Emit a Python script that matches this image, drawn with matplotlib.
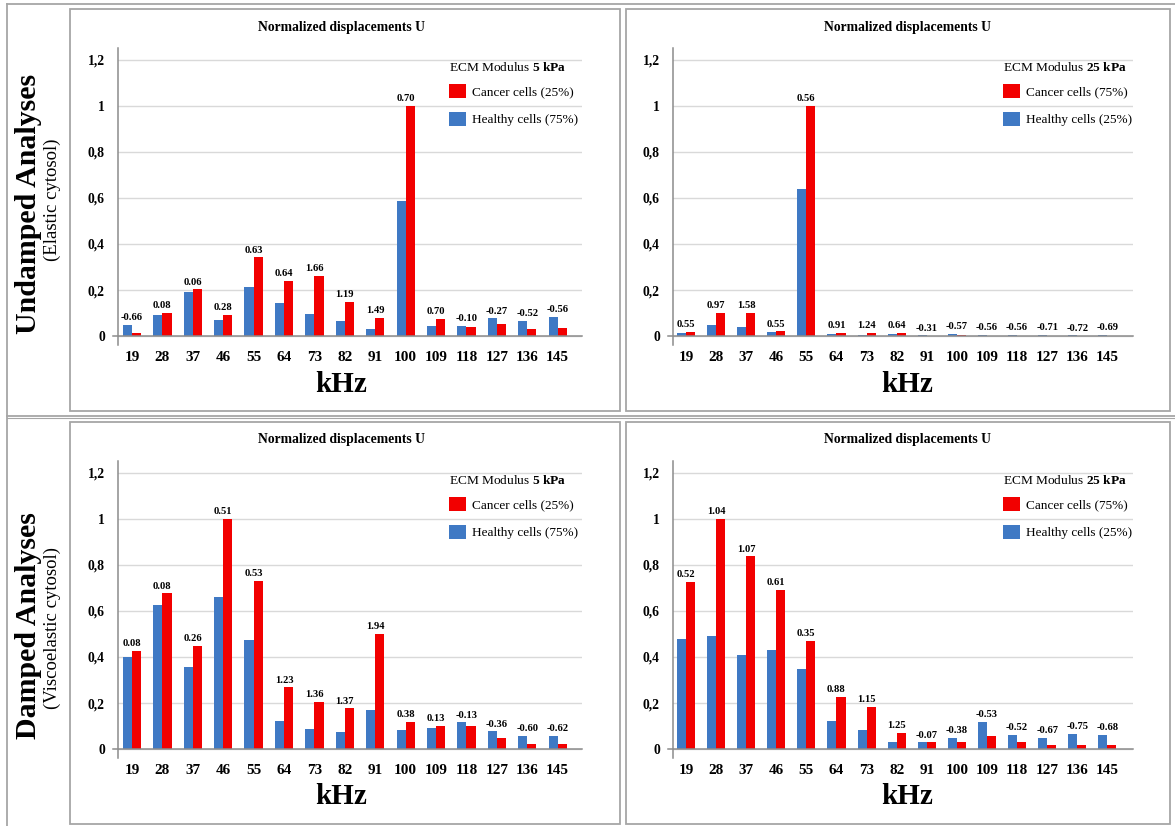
import matplotlib
matplotlib.use("Agg")
import matplotlib.pyplot as plt
from matplotlib.patches import Rectangle
from matplotlib.lines import Line2D

# ---------------------------------------------------------------- data
freq_khz = ["19", "28", "37", "46", "55", "64", "73", "82",
            "91", "100", "109", "118", "127", "136", "145"]

y_ticks = [0, 0.2, 0.4, 0.6, 0.8, 1.0, 1.2]
y_tick_labels = ["0", "0,2", "0,4", "0,6", "0,8", "1", "1,2"]

# Undamped analyses (elastic cytosol), ECM modulus 5 kPa
undamped_5_healthy = [0.048, 0.092, 0.193, 0.070, 0.211, 0.145, 0.096, 0.065,
                      0.029, 0.587, 0.042, 0.044, 0.077, 0.065, 0.084]
undamped_5_cancer = [0.015, 0.099, 0.203, 0.092, 0.342, 0.241, 0.263, 0.148,
                     0.080, 1.000, 0.073, 0.038, 0.054, 0.031, 0.033]
undamped_5_change = [-0.66, 0.08, 0.06, 0.28, 0.63, 0.64, 1.66, 1.19,
                     1.49, 0.70, 0.70, -0.10, -0.27, -0.52, -0.56]

# Undamped analyses (elastic cytosol), ECM modulus 25 kPa
undamped_25_healthy = [0.015, 0.049, 0.038, 0.016, 0.641, 0.007, 0.006, 0.009,
                       0.003, 0.008, 0.004, 0.004, 0.005, 0.003, 0.004]
undamped_25_cancer = [0.019, 0.099, 0.099, 0.020, 1.000, 0.013, 0.013, 0.015,
                      0.002, 0.004, 0.002, 0.002, 0.002, 0.001, 0.001]
undamped_25_change = [0.55, 0.97, 1.58, 0.55, 0.56, 0.91, 1.24, 0.64,
                      -0.31, -0.57, -0.56, -0.56, -0.71, -0.72, -0.69]

# Damped analyses (viscoelastic cytosol), ECM modulus 5 kPa
damped_5_healthy = [0.398, 0.628, 0.355, 0.663, 0.476, 0.120, 0.085, 0.074,
                    0.168, 0.084, 0.090, 0.116, 0.077, 0.058, 0.056]
damped_5_cancer = [0.428, 0.677, 0.450, 1.000, 0.731, 0.268, 0.205, 0.177,
                   0.500, 0.117, 0.100, 0.100, 0.048, 0.023, 0.020]
damped_5_change = [0.08, 0.08, 0.26, 0.51, 0.53, 1.23, 1.36, 1.37,
                   1.94, 0.38, 0.13, -0.13, -0.36, -0.60, -0.62]

# Damped analyses (viscoelastic cytosol), ECM modulus 25 kPa
damped_25_healthy = [0.478, 0.493, 0.407, 0.429, 0.347, 0.121, 0.084, 0.031,
                     0.029, 0.048, 0.118, 0.060, 0.049, 0.067, 0.060]
damped_25_cancer = [0.727, 1.000, 0.837, 0.692, 0.469, 0.227, 0.183, 0.070,
                    0.029, 0.029, 0.057, 0.029, 0.017, 0.017, 0.019]
damped_25_change = [0.52, 1.04, 1.07, 0.61, 0.35, 0.88, 1.15, 1.25,
                    -0.07, -0.38, -0.53, -0.52, -0.67, -0.75, -0.68]

# ---------------------------------------------------------------- style
plt.rcParams["font.family"] = ["Liberation Serif", "DejaVu Serif"]
plt.rcParams["mathtext.fontset"] = "custom"
plt.rcParams["mathtext.rm"] = "Liberation Serif"
plt.rcParams["mathtext.bf"] = "Liberation Serif:bold"

RED = "#F20000"
BLUE = "#3F79C4"
GRID = "#D9D9D9"
AXIS = "#8C8C8C"
FRAME = "#A6A6A6"

W, H = 1175, 826
fig = plt.figure(figsize=(W / 100, H / 100), dpi=100)
fig.patch.set_facecolor("white")


def fx(x):
    return x / W


def fy(y):
    return 1 - y / H


def add_px_axes(x0, y0, x1, y1):
    return fig.add_axes([fx(x0), fy(y1), (x1 - x0) / W, (y1 - y0) / H])


def fig_line(xs, ys, **kw):
    fig.add_artist(Line2D([fx(v) for v in xs], [fy(v) for v in ys],
                          transform=fig.transFigure, **kw))


def panel(box, ax_box, xlim, healthy, cancer, change, modulus,
          cancer_pct, healthy_pct, title_x, title_y, khz_y, legend_xy):
    # panel frame
    bx0, by0, bx1, by1 = box
    fig.add_artist(Rectangle((fx(bx0), fy(by1)), (bx1 - bx0) / W,
                             (by1 - by0) / H, transform=fig.transFigure,
                             fill=False, edgecolor=FRAME, linewidth=1.3))

    ax = add_px_axes(*ax_box)
    x = list(range(len(freq_khz)))
    w = 0.3
    ax.bar([i - w / 2 for i in x], healthy, width=w, color=BLUE,
           label=f"Healthy cells ({healthy_pct})", zorder=3)
    ax.bar([i + w / 2 for i in x], cancer, width=w, color=RED,
           label=f"Cancer cells ({cancer_pct})", zorder=3)

    for i, (h, c, lab) in enumerate(zip(healthy, cancer, change)):
        ax.annotate(f"{lab:.2f}", (i, max(h, c)), xytext=(0, 2),
                    textcoords="offset points", ha="center", va="bottom",
                    fontsize=7.6, fontweight="bold", zorder=4)

    ax.set_xlim(*xlim)
    ax.set_ylim(-0.039, 1.252)
    ax.set_yticks(y_ticks)
    ax.set_yticklabels(y_tick_labels, fontsize=9.8, fontweight="bold")
    ax.set_xticks(x)
    ax.set_xticklabels(freq_khz, fontsize=11, fontweight="bold")
    ax.tick_params(axis="y", length=0, pad=9.5)
    ax.tick_params(axis="x", length=0, pad=4.5)
    ax.yaxis.grid(True, color=GRID, linewidth=1.0, zorder=0)
    ax.set_axisbelow(True)
    for s in ("top", "right", "bottom"):
        ax.spines[s].set_visible(False)
    ax.spines["left"].set_color(AXIS)
    ax.spines["left"].set_linewidth(1.1)
    ax.plot([xlim[0] - 0.17, xlim[1]], [0, 0], color=AXIS, linewidth=1.1,
            clip_on=False, zorder=5)

    handles, labels = ax.get_legend_handles_labels()
    leg = ax.legend(handles[::-1], labels[::-1],
                    title=rf"ECM Modulus $\mathbf{{{modulus}}}$ $\mathbf{{kPa}}$",
                    alignment="left", loc="upper left",
                    bbox_to_anchor=(fx(legend_xy[0]), fy(legend_xy[1])),
                    bbox_transform=fig.transFigure, frameon=False,
                    borderpad=0, borderaxespad=0, fontsize=9.5,
                    title_fontsize=9.6, handlelength=1.3, handleheight=1.3,
                    handletextpad=0.45, labelspacing=1.0)
    leg._legend_box.sep = 7

    fig.text(fx(title_x), fy(title_y), "Normalized displacements U",
             ha="center", va="center", fontsize=9.8, fontweight="bold")
    fig.text(fx(title_x), fy(khz_y), "kHz", ha="center", va="center",
             fontsize=21, fontweight="bold")
    return ax


LX, RX = (118, 582), (673, 1133)
panel((70, 9, 620, 411), (LX[0], 48, LX[1], 345), (-0.46, 14.8),
      undamped_5_healthy, undamped_5_cancer, undamped_5_change,
      "5", "25%", "75%", 341, 28, 384, (449, 61))
panel((626, 9, 1170, 411), (RX[0], 48, RX[1], 345), (-0.43, 14.85),
      undamped_25_healthy, undamped_25_cancer, undamped_25_change,
      "25", "75%", "25%", 907, 27, 384, (1003, 61))
panel((70, 422, 620, 824), (LX[0], 461, LX[1], 758), (-0.46, 14.8),
      damped_5_healthy, damped_5_cancer, damped_5_change,
      "5", "25%", "75%", 341, 440, 797, (449, 474))
panel((626, 422, 1170, 824), (RX[0], 461, RX[1], 758), (-0.43, 14.85),
      damped_25_healthy, damped_25_cancer, damped_25_change,
      "25", "75%", "25%", 907, 440, 797, (1003, 474))

# outer table lines
fig_line([7, 7], [4, 826], color=FRAME, linewidth=1.3)
fig_line([7, 1175], [4, 4], color=FRAME, linewidth=1.3)
fig_line([7, 1175], [415.5, 415.5], color=FRAME, linewidth=1.3)
fig_line([7, 1175], [417.5, 417.5], color=FRAME, linewidth=0.8)

# row headings
fig.text(fx(29), fy(204), "Undamped Analyses", rotation=90, ha="center",
         va="center", fontsize=21.5, fontweight="bold")
fig.text(fx(52), fy(200), "(Elastic cytosol)", rotation=90, ha="center",
         va="center", fontsize=13.5)
fig.text(fx(29), fy(626), "Damped Analyses", rotation=90, ha="center",
         va="center", fontsize=21.5, fontweight="bold")
fig.text(fx(52), fy(628), "(Viscoelastic cytosol)", rotation=90,
         ha="center", va="center", fontsize=13.5)

fig.savefig("out.png", dpi=100, facecolor="white")
